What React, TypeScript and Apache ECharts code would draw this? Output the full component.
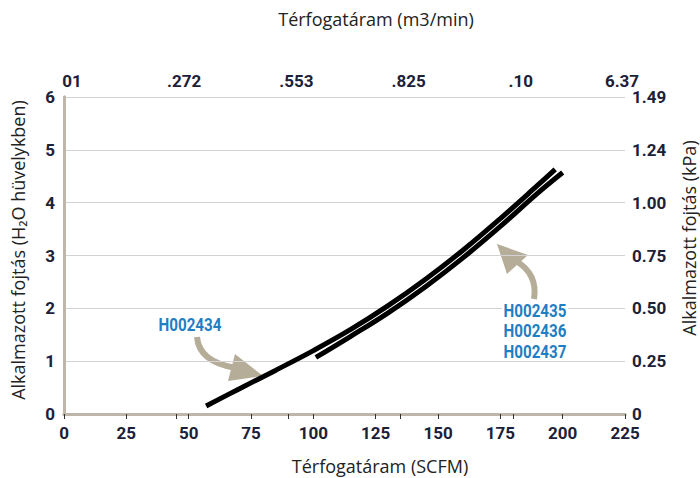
import React, { useEffect, useRef } from "react";
import * as echarts from "echarts";

// Axis tick labels
const topTickLabels = ["01", ".272", ".553", ".825", ".10", "6.37"];
const rightTickLabels = ["0", "0.25", "0.50", "0.75", "1.00", "1.24", "1.49"];

// Series: H002434
const h002434Flow = [57, 70, 85, 100, 115, 130, 145, 160, 175, 190, 197];
const h002434Drop = [0.15, 0.47, 0.83, 1.2, 1.6, 2.05, 2.55, 3.1, 3.7, 4.33, 4.63];

// Series: H002435 / H002436 / H002437
const h002435Flow = [101, 115, 130, 145, 160, 175, 190, 200];
const h002435Drop = [1.07, 1.47, 1.915, 2.41, 2.955, 3.55, 4.18, 4.57];

const calloutA = ["H002434"];
const calloutB = ["H002435", "H002436", "H002437"];

const NUM = "Roboto, 'Liberation Sans', sans-serif";
const TITLE = "'Open Sans', 'Noto Sans', sans-serif";
const AXIS_GRAY = "#bdb6a9";
const TICK_TEXT = "#1c2138";
const BLUE = "#1f7fc2";
const ARROW = "#b5ad98";

export default function App() {
  const ref = useRef<HTMLDivElement>(null);
  useEffect(() => {
    if (!ref.current) return;
    const chart = echarts.init(ref.current, undefined, { renderer: "svg" });
    const labelStyle = {
      color: TICK_TEXT,
      fontFamily: NUM,
      fontWeight: "bold" as const,
      fontSize: 17,
    };
    const txt = (
      text: string,
      x: number,
      y: number,
      font: string,
      fill: string,
      rotation = 0,
      scaleX = 1,
      bg?: string
    ) => ({
      type: "text",
      x,
      y,
      rotation,
      scaleX,
      z: 10,
      style: {
        text,
        font,
        fill,
        align: "center",
        verticalAlign: "middle",
        textAlign: "center",
        textVerticalAlign: "middle",
        ...(bg ? { backgroundColor: bg, padding: [0, 2, 0, 2] } : {}),
      },
    });
    chart.setOption({
      animation: false,
      backgroundColor: "#ffffff",
      grid: { left: 64, right: 75, top: 97, bottom: 64, containLabel: false },
      xAxis: [
        {
          type: "value",
          position: "bottom",
          min: 0,
          max: 225,
          interval: 25,
          axisLine: { show: true, lineStyle: { color: AXIS_GRAY, width: 3 } },
          axisTick: { show: true, inside: false, length: 5, lineStyle: { color: "#333", width: 1 } },
          axisLabel: { ...labelStyle, margin: 10 },
          splitLine: { show: false },
        },
        {
          type: "value",
          position: "top",
          min: 0,
          max: 5,
          interval: 1,
          axisLine: { show: true, lineStyle: { color: AXIS_GRAY, width: 3 } },
          axisTick: { show: true, inside: true, length: 5, lineStyle: { color: "#333", width: 1 } },
          axisLabel: {
            ...labelStyle,
            margin: 8,
            formatter: (v: number) => {
              const i = Math.round(v);
              const t = topTickLabels[i] ?? "";
              return i === topTickLabels.length - 1 ? `{e|${t}}` : `{p|${t}}`;
            },
            rich: {
              p: { ...labelStyle, padding: [0, 0, 0, 16] },
              e: { ...labelStyle, padding: [0, 6, 0, 0] },
            },
          },
          splitLine: { show: false },
        },
      ],
      yAxis: [
        {
          type: "value",
          position: "left",
          min: 0,
          max: 6,
          interval: 1,
          axisLine: { show: true, lineStyle: { color: AXIS_GRAY, width: 3 } },
          axisTick: { show: false },
          axisLabel: { ...labelStyle, margin: 9 },
          splitLine: { show: true, lineStyle: { color: "#d2d2d2", width: 1 } },
        },
        {
          type: "value",
          position: "right",
          min: 0,
          max: 6,
          interval: 1,
          axisLine: { show: true, lineStyle: { color: AXIS_GRAY, width: 3 } },
          axisTick: { show: false },
          axisLabel: {
            ...labelStyle,
            margin: 7,
            formatter: (v: number) => rightTickLabels[Math.round(v)] ?? "",
          },
          splitLine: { show: false },
        },
      ],
      series: [
        {
          name: "H002434",
          type: "line",
          xAxisIndex: 0,
          yAxisIndex: 0,
          smooth: 0.4,
          symbol: "none",
          lineStyle: { color: "#000", width: 5 },
          data: h002434Flow.map((f, i) => [f, h002434Drop[i]]),
        },
        {
          name: "H002435",
          type: "line",
          xAxisIndex: 0,
          yAxisIndex: 0,
          smooth: 0.4,
          symbol: "none",
          lineStyle: { color: "#000", width: 5 },
          data: h002435Flow.map((f, i) => [f, h002435Drop[i]]),
        },
      ],
      graphic: [
        txt("Térfogatáram (m3/min)", 376, 19, `18px ${TITLE}`, "#222"),
        txt("Térfogatáram (SCFM)", 380, 466, `18px ${TITLE}`, "#222"),
        txt("Alkalmazott fojtás (H₂O hüvelykben)", 18, 250, `18px ${TITLE}`, "#222", Math.PI / 2),
        txt("Alkalmazott fojtás (kPa)", 689, 238, `18px ${TITLE}`, "#222", Math.PI / 2),
        ...calloutA.map((t, i) => txt(t, 190, 324 + i * 20.5, `bold 19px ${NUM}`, BLUE, 0, 0.8)),
        ...calloutB.map((t, i) =>
          txt(t, 535, 310 + i * 20.5, `bold 19px ${NUM}`, BLUE, 0, 0.8, "#ffffff")
        ),
        {
          type: "bezierCurve",
          shape: { x1: 197, y1: 337, cpx1: 199, cpy1: 362, x2: 236, y2: 368 },
          style: { stroke: ARROW, lineWidth: 6, fill: null },
        },
        {
          type: "polygon",
          shape: { points: [[263, 376], [235, 354], [228, 381]] },
          style: { fill: ARROW },
        },
        {
          type: "bezierCurve",
          shape: { x1: 534, y1: 299, cpx1: 538, cpy1: 274, x2: 516, y2: 261 },
          style: { stroke: ARROW, lineWidth: 6, fill: null },
        },
        {
          type: "polygon",
          shape: { points: [[497, 244], [528, 255], [507, 274]] },
          style: { fill: ARROW },
        },
      ],
    });
    return () => chart.dispose();
  }, []);
  return (
    <div
      ref={ref}
      style={{ position: "fixed", left: 0, top: 0, width: 700, height: 478 }}
    />
  );
}
